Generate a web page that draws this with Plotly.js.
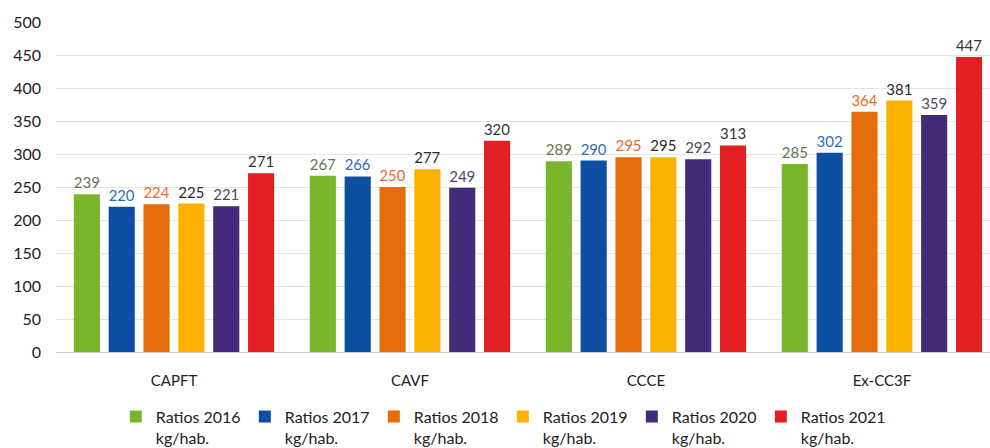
<!DOCTYPE html>
<html>
<head>
<meta charset="utf-8">
<script src="https://cdn.plot.ly/plotly-3.0.1.min.js"></script>
<style>html,body{margin:0;padding:0;background:#fff;}#chart{width:990px;height:448px;}</style>
</head>
<body>
<div id="chart"></div>
<script>
const categories = ["CAPFT", "CAVF", "CCCE", "Ex-CC3F"];
const seriesNames = ["Ratios 2016<br>kg/hab.", "Ratios 2017<br>kg/hab.", "Ratios 2018<br>kg/hab.", "Ratios 2019<br>kg/hab.", "Ratios 2020<br>kg/hab.", "Ratios 2021<br>kg/hab."];
const ratios2016 = [239, 267, 289, 285];
const ratios2017 = [220, 266, 290, 302];
const ratios2018 = [224, 250, 295, 364];
const ratios2019 = [225, 277, 295, 381];
const ratios2020 = [221, 249, 292, 359];
const ratios2021 = [271, 320, 313, 447];
const yTicks = [0, 50, 100, 150, 200, 250, 300, 350, 400, 450, 500];

const allSeries = [ratios2016, ratios2017, ratios2018, ratios2019, ratios2020, ratios2021];
const barColors = ["#7ab62c", "#0b4ea2", "#e46c0a", "#fdb100", "#432b7a", "#e21f22"];
const labelColors = ["#62794e", "#2f6db5", "#e8692b", "#2a2a2a", "#4d4a62", "#333333"];

const traces = allSeries.map((vals, i) => ({
  type: "bar",
  name: seriesNames[i],
  x: categories,
  y: vals,
  marker: {color: barColors[i]},
  text: vals.map(String),
  textposition: "outside",
  cliponaxis: false,
  textfont: {family: "Lato, sans-serif", size: 15, color: labelColors[i]},
  hoverinfo: "skip"
}));

const layout = {
  width: 990, height: 448,
  margin: {l: 56, r: 0, t: 22, b: 96},
  paper_bgcolor: "#ffffff",
  plot_bgcolor: "#ffffff",
  barmode: "group",
  bargap: 0.114,
  bargroupgap: 0.25,
  showlegend: true,
  xaxis: {
    range: [-0.5, 3.458],
    tickfont: {family: "Lato, sans-serif", size: 15, color: "#222"},
    ticklabelstandoff: 18,
    showgrid: false,
    showline: false,
    zeroline: false,
    ticks: ""
  },
  yaxis: {
    range: [0, 500],
    tickvals: yTicks,
    ticktext: yTicks.map(String),
    tickfont: {family: "Lato, sans-serif", size: 16, color: "#222"},
    ticklabelstandoff: 14,
    showgrid: true,
    gridcolor: "#e4e4e4",
    gridwidth: 1,
    zeroline: true,
    zerolinecolor: "#cfcfcf",
    zerolinewidth: 1,
    showline: false,
    ticks: ""
  },
  legend: {
    orientation: "h",
    xref: "container",
    yref: "container",
    x: 0.117, xanchor: "left",
    y: 0.108, yanchor: "top",
    valign: "top",
    entrywidth: 84,
    entrywidthmode: "pixels",
    itemwidth: 30,
    font: {family: "Lato, sans-serif", size: 16, color: "#222"},
    traceorder: "normal",
    tracegroupgap: 0
  }
};

Plotly.newPlot("chart", traces, layout, {displayModeBar: false, staticPlot: true});
</script>
</body>
</html>
